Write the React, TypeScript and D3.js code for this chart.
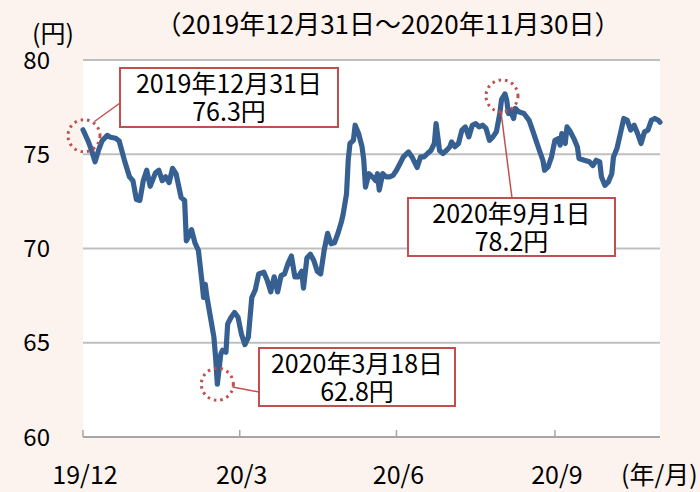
import React from "react";
import * as d3 from "d3";

const dates: string[] = [
  "2019-12-31","2020-01-03","2020-01-05","2020-01-07","2020-01-09","2020-01-11","2020-01-14","2020-01-16","2020-01-19","2020-01-21",
  "2020-01-24","2020-01-27","2020-01-29","2020-01-31","2020-02-02","2020-02-04","2020-02-06","2020-02-08","2020-02-11","2020-02-13",
  "2020-02-15","2020-02-17","2020-02-19","2020-02-21","2020-02-23","2020-02-26","2020-02-28","2020-02-29","2020-03-03","2020-03-05",
  "2020-03-07","2020-03-09","2020-03-10","2020-03-11","2020-03-12","2020-03-14","2020-03-16","2020-03-17","2020-03-18","2020-03-20",
  "2020-03-21","2020-03-23","2020-03-24","2020-03-26","2020-03-28","2020-03-30","2020-04-01","2020-04-03","2020-04-05","2020-04-07",
  "2020-04-09","2020-04-11","2020-04-14","2020-04-16","2020-04-18","2020-04-20","2020-04-22","2020-04-24","2020-04-26","2020-04-28",
  "2020-04-30","2020-05-02","2020-05-04","2020-05-06","2020-05-07","2020-05-09","2020-05-11","2020-05-13","2020-05-15","2020-05-17",
  "2020-05-19","2020-05-21","2020-05-23","2020-05-25","2020-05-27","2020-05-29","2020-05-30","2020-06-01","2020-06-02","2020-06-03",
  "2020-06-05","2020-06-06","2020-06-08","2020-06-10","2020-06-11","2020-06-12","2020-06-14","2020-06-16","2020-06-18","2020-06-19",
  "2020-06-20","2020-06-22","2020-06-24","2020-06-26","2020-06-28","2020-06-30","2020-07-02","2020-07-04","2020-07-07","2020-07-09",
  "2020-07-12","2020-07-14","2020-07-16","2020-07-18","2020-07-20","2020-07-22","2020-07-23","2020-07-24","2020-07-25","2020-07-27",
  "2020-07-29","2020-07-31","2020-08-01","2020-08-03","2020-08-05","2020-08-07","2020-08-09","2020-08-11","2020-08-13","2020-08-15",
  "2020-08-17","2020-08-19","2020-08-21","2020-08-23","2020-08-25","2020-08-27","2020-08-29","2020-08-30","2020-09-01","2020-09-02",
  "2020-09-03","2020-09-04","2020-09-06","2020-09-07","2020-09-09","2020-09-12","2020-09-15","2020-09-17","2020-09-19","2020-09-21",
  "2020-09-23","2020-09-24","2020-09-26","2020-09-28","2020-09-30","2020-10-02","2020-10-03","2020-10-04","2020-10-06","2020-10-07",
  "2020-10-09","2020-10-11","2020-10-13","2020-10-14","2020-10-17","2020-10-20","2020-10-22","2020-10-24","2020-10-26","2020-10-27",
  "2020-10-29","2020-10-31","2020-11-02","2020-11-03","2020-11-05","2020-11-07","2020-11-09","2020-11-11","2020-11-13","2020-11-15",
  "2020-11-17","2020-11-19","2020-11-21","2020-11-23","2020-11-25","2020-11-27","2020-11-29","2020-11-30"
];

const rates: number[] = [
  76.3,75.7,75.2,74.6,75.2,75.7,76.0,75.9,75.85,75.7,
  74.7,73.8,73.6,72.6,72.55,73.6,74.15,73.3,74.0,74.15,
  73.6,73.8,73.5,74.25,73.97,72.7,72.55,70.4,71.0,70.3,
  69.9,68.3,67.4,68.1,67.4,66.35,65.3,64.2,62.8,64.4,
  64.6,64.5,66.0,66.35,66.6,66.35,65.45,64.9,65.3,67.4,
  67.8,68.65,68.74,68.3,67.7,68.5,67.7,68.56,68.65,69.2,
  69.6,68.5,68.5,68.8,67.9,69.5,69.7,69.36,68.8,68.65,
  69.9,70.8,70.25,70.3,70.8,71.4,71.8,72.9,74.7,75.57,
  75.74,76.54,76.1,75.4,74.7,73.26,73.97,73.8,73.6,73.97,
  73.1,73.97,73.8,73.8,73.88,74.15,74.5,74.86,75.12,74.86,
  74.3,74.86,74.86,75.04,75.2,75.57,76.63,75.92,75.2,75.04,
  75.2,75.4,75.65,75.4,75.57,76.28,76.45,75.92,76.54,76.63,
  76.45,76.54,76.37,75.74,75.92,76.19,77.16,77.9,78.2,77.87,
  77.16,77.34,76.9,77.43,77.25,77.16,76.8,76.28,75.74,75.2,
  74.68,74.15,74.33,74.86,75.74,75.83,75.48,76.1,75.57,76.45,
  76.19,75.83,75.4,74.77,74.68,74.6,74.4,74.68,74.6,73.8,
  73.35,73.53,73.97,74.86,75.3,76.1,76.9,76.8,76.28,76.54,
  76.1,75.57,76.19,76.28,76.8,76.9,76.8,76.7
];

const yTicks: number[] = [60, 65, 70, 75, 80];
const xTickDates: string[] = ["2019-12-31", "2020-03-31", "2020-06-30", "2020-09-30"];
const xTickLabels: string[] = ["19/12", "20/3", "20/6", "20/9"];

const subtitle = "（2019年12月31日～2020年11月30日）";
const yUnit = "(円)";
const xUnit = "(年/月)";

const callouts = [
  { date: "2019-12-31", line1: "2019年12月31日", line2: "76.3円" },
  { date: "2020-03-18", line1: "2020年3月18日", line2: "62.8円" },
  { date: "2020-09-01", line1: "2020年9月1日", line2: "78.2円" },
];

const parse = d3.timeParse("%Y-%m-%d");
const FONT = "'Noto Sans CJK JP', 'Noto Sans', sans-serif";

export default function App() {
  const W = 700, H = 492;
  const x = d3.scaleTime()
    .domain([parse("2019-12-31")!, parse("2020-11-30")!])
    .range([83, 660]);
  const y = d3.scaleLinear().domain([60, 80]).range([437, 60]);

  const data = dates.map((d, i) => ({ date: parse(d)!, v: rates[i] }));
  const line = d3.line<{ date: Date; v: number }>()
    .x(d => x(d.date))
    .y(d => y(d.v));

  const red = "#c0504d";
  const blue = "#376092";

  const boxes = [
    { bx: 120, by: 68, bw: 218, bh: 59, cdx: 1, cdy: 6, lx1: 120, ly1: 103, lx2: 94.5, ly2: 121.5 },
    { bx: 259, by: 348, bw: 196, bh: 58, cdx: 0, cdy: 0, lx1: 259, ly1: 392, lx2: 232.5, ly2: 387 },
    { bx: 408, by: 198, bw: 207, bh: 58, cdx: -3, cdy: 2, lx1: 512, ly1: 198, lx2: 501, ly2: 112 },
  ];

  return (
    <svg width={W} height={H} style={{ position: "absolute", left: 0, top: 0 }} fontFamily={FONT}>
      <rect x={0} y={0} width={W} height={H} fill="#fdf3ee" />
      <rect x={83} y={59} width={577} height={378} fill="#ffffff" />
      {yTicks.filter(t => t > 60).map(t => (
        <line key={t} x1={83} x2={660} y1={y(t)} y2={y(t)} stroke="#bfbfbf" strokeWidth={1.8} />
      ))}
      <line x1={83} x2={660} y1={y(60)} y2={y(60)} stroke="#a6a6a6" strokeWidth={1.8} />
      {xTickDates.map(d => (
        <line key={d} x1={x(parse(d)!)} x2={x(parse(d)!)} y1={y(60)} y2={y(60) - 7} stroke="#a6a6a6" strokeWidth={1.5} />
      ))}
      {yTicks.map(t => (
        <text key={t} x={50} y={y(t) + 8.5} fontSize={24} textAnchor="end" fill="#000">{t}</text>
      ))}
      {xTickDates.map((d, i) => (
        <text key={d} x={x(parse(d)!) + 2} y={484} fontSize={25} textAnchor="middle" fill="#000">{xTickLabels[i]}</text>
      ))}
      <text x={621} y={484} fontSize={25} fill="#000">{xUnit}</text>
      <text x={32} y={43} fontSize={25} fill="#000">{yUnit}</text>
      <text x={388} y={34} fontSize={26} textAnchor="middle" fill="#000">{subtitle}</text>

      <path d={line(data) || ""} fill="none" stroke={blue} strokeWidth={5.2} strokeLinejoin="round" strokeLinecap="round" />

      {callouts.map((c, i) => {
        const b = boxes[i];
        const pt = data.find(p => +p.date === +parse(c.date)!)!;
        const cx = x(pt.date) + b.cdx;
        const cy = y(pt.v) + b.cdy;
        return (
          <g key={c.date}>
            <circle cx={cx} cy={cy} r={16} fill="none" stroke={red} strokeWidth={3} strokeDasharray="2.5 4" />
            <line x1={b.lx1} y1={b.ly1} x2={b.lx2} y2={b.ly2} stroke={red} strokeWidth={1.5} />
            <rect x={b.bx} y={b.by} width={b.bw} height={b.bh} fill="#fff" stroke={red} strokeWidth={2} />
            <text x={b.bx + b.bw / 2} y={b.by + 25} fontSize={25} textAnchor="middle" fill="#000">{c.line1}</text>
            <text x={b.bx + b.bw / 2} y={b.by + 53} fontSize={25} textAnchor="middle" fill="#000">{c.line2}</text>
          </g>
        );
      })}
    </svg>
  );
}
